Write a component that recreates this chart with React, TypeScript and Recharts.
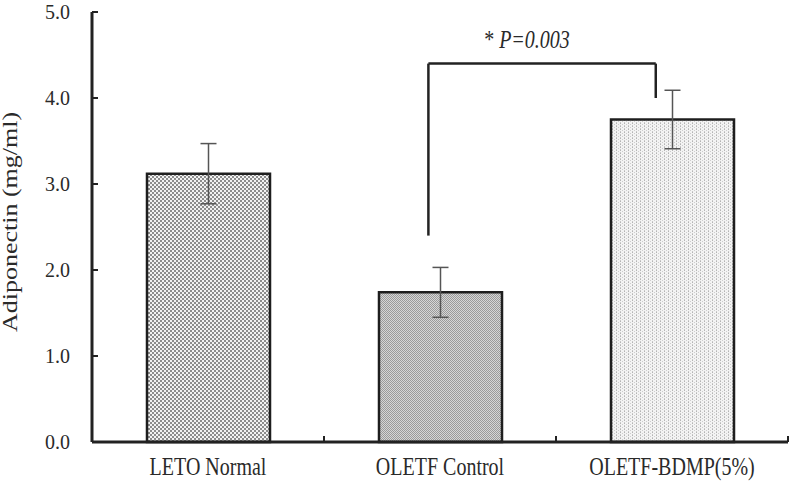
import React from "react";
import {
  ComposedChart,
  Bar,
  Cell,
  XAxis,
  YAxis,
  ErrorBar,
  ReferenceLine,
  ReferenceDot,
} from "recharts";

const groups = ["LETO Normal", "OLETF Control", "OLETF-BDMP(5%)"];
const means = [3.12, 1.74, 3.75];
const errors = [0.35, 0.29, 0.34];
const yTicks = [0, 1, 2, 3, 4, 5];
const patternIds = ["patLeto", "patControl", "patBdmp"];

// significance bracket (data units)
const bracketX = [1.45, 2.43];
const bracketTop = 4.4;
const bracketLeftBottom = 2.4;
const bracketRightBottom = 4.0;
const sigLabelPos = { x: 1.875, y: 4.58 };

const data = groups.map((g, i) => ({
  name: g,
  pos: i + 0.5,
  value: means[i],
  err: errors[i],
}));

const xTicks: number[] = [];
for (let i = 0; i <= groups.length; i++) {
  xTicks.push(i);
  if (i < groups.length) xTicks.push(i + 0.5);
}

const FONT = "'Liberation Serif', 'Times New Roman', serif";
const TEXT = "#2a2a2a";
const STRETCH = 1.3;

const YTick = (props: any) => {
  const { x, y, payload } = props;
  return (
    <g>
      <line x1={x + 22} x2={x + 28} y1={y} y2={y} stroke="#222" strokeWidth={2} />
      <text
        x={x}
        y={y}
        textAnchor="end"
        dy="0.34em"
        fontFamily={FONT}
        fontSize={20}
        fill={TEXT}
      >
        {Number(payload.value).toFixed(1)}
      </text>
    </g>
  );
};

const XTick = (props: any) => {
  const { x, y, payload } = props;
  const v = Number(payload.value);
  if (Number.isInteger(v)) {
    return <line x1={x} x2={x} y1={y} y2={y - 6} stroke="#222" strokeWidth={2} />;
  }
  return (
    <text
      transform={`translate(${x},${y + 33}) scale(1,${STRETCH})`}
      textAnchor="middle"
      fontFamily={FONT}
      fontSize={20}
      fill={TEXT}
    >
      {groups[Math.floor(v)]}
    </text>
  );
};

const YLabel = (props: any) => {
  const vb = props.viewBox || { x: 0, y: 0, width: 0, height: 0 };
  const cx = vb.x + 17;
  const cy = vb.y + vb.height / 2 - 5;
  return (
    <text
      transform={`translate(${cx},${cy}) scale(1,${STRETCH}) rotate(-90)`}
      textAnchor="middle"
      fontFamily={FONT}
      fontSize={20}
      fill={TEXT}
    >
      Adiponectin (mg/ml)
    </text>
  );
};

const SigLabel = (props: any) => {
  const { cx, cy } = props;
  return (
    <text
      transform={`translate(${cx},${cy}) scale(1,${STRETCH})`}
      textAnchor="middle"
      fontFamily={FONT}
      fontSize={20}
      fill={TEXT}
    >
      <tspan>* </tspan>
      <tspan fontStyle="italic">P=0.003</tspan>
    </text>
  );
};

export default function App() {
  return (
    <div style={{ position: "absolute", left: 0, top: 0, width: 792, height: 494, background: "#fff" }}>
      <svg width="0" height="0" style={{ position: "absolute" }}>
        <defs>
          <pattern id="patLeto" width="4" height="4" patternUnits="userSpaceOnUse">
            <rect width="4" height="4" fill="#f2f2f2" />
            <rect x="0" y="0" width="2" height="2" fill="#8c8c8c" />
            <rect x="2" y="2" width="2" height="2" fill="#8c8c8c" />
          </pattern>
          <pattern id="patControl" width="2" height="2" patternUnits="userSpaceOnUse">
            <rect width="2" height="2" fill="#d6d6d6" />
            <rect x="0" y="0" width="1" height="1" fill="#9a9a9a" />
            <rect x="1" y="1" width="1" height="1" fill="#9a9a9a" />
          </pattern>
          <pattern id="patBdmp" width="4" height="3" patternUnits="userSpaceOnUse">
            <rect width="4" height="3" fill="#f3f3f3" />
            <rect x="0" y="0" width="1" height="1" fill="#b4b4b4" />
            <rect x="2" y="1" width="1" height="1" fill="#cdcdcd" />
            <rect x="0" y="2" width="1" height="1" fill="#c8c8c8" />
          </pattern>
        </defs>
      </svg>
      <ComposedChart
        width={792}
        height={494}
        data={data}
        margin={{ top: 12, right: 4, left: 0, bottom: 12 }}
      >
        <XAxis
          dataKey="pos"
          type="number"
          domain={[0, groups.length]}
          ticks={xTicks}
          interval={0}
          tickSize={0}
          tickMargin={0}
          tickLine={false}
          tick={<XTick />}
          height={40}
          axisLine={{ stroke: "#222", strokeWidth: 3 }}
          allowDataOverflow
        />
        <YAxis
          type="number"
          domain={[0, 5]}
          ticks={yTicks}
          interval={0}
          width={92}
          tickSize={0}
          tickMargin={22}
          tickLine={false}
          tick={<YTick />}
          axisLine={{ stroke: "#222", strokeWidth: 3 }}
          label={<YLabel />}
        />
        <Bar
          dataKey="value"
          barSize={123}
          stroke="#1e1e1e"
          strokeWidth={2.5}
          isAnimationActive={false}
        >
          {data.map((d, i) => (
            <Cell key={d.name} fill={`url(#${patternIds[i]})`} />
          ))}
          <ErrorBar
            dataKey="err"
            direction="y"
            width={8}
            stroke="#555"
            strokeWidth={1.5}
            isAnimationActive={false}
          />
        </Bar>
        <ReferenceLine
          segment={[
            { x: bracketX[0], y: bracketLeftBottom },
            { x: bracketX[0], y: bracketTop },
          ]}
          stroke="#222"
          strokeWidth={2.5}
        />
        <ReferenceLine
          segment={[
            { x: bracketX[0], y: bracketTop },
            { x: bracketX[1], y: bracketTop },
          ]}
          stroke="#222"
          strokeWidth={2.5}
        />
        <ReferenceLine
          segment={[
            { x: bracketX[1], y: bracketRightBottom },
            { x: bracketX[1], y: bracketTop },
          ]}
          stroke="#222"
          strokeWidth={2.5}
        />
        <ReferenceDot
          x={sigLabelPos.x}
          y={sigLabelPos.y}
          r={0}
          shape={<SigLabel />}
        />
      </ComposedChart>
    </div>
  );
}
